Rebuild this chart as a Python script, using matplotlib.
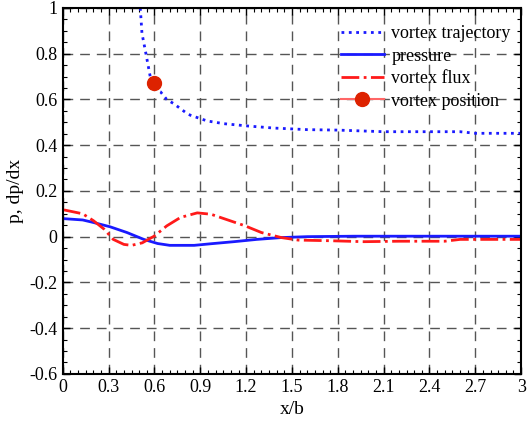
import matplotlib
matplotlib.use("Agg")
import matplotlib.pyplot as plt
from matplotlib.ticker import MultipleLocator
import numpy as np

plt.rcParams['font.family'] = ['Liberation Serif', 'DejaVu Serif']
plt.rcParams['mathtext.fontset'] = 'stix'

# vortex trajectory
traj_x = [0.507, 0.518, 0.544, 0.572, 0.616, 0.64, 0.68, 0.725, 0.81, 0.835, 0.945,
          1.055, 1.21, 1.38, 1.60, 1.80, 2.1, 2.6, 2.7, 3.0]
traj_y = [1.0, 0.889, 0.80, 0.70, 0.64, 0.633, 0.60, 0.582, 0.54, 0.531, 0.506,
          0.494, 0.484, 0.475, 0.468, 0.466, 0.459, 0.459, 0.452, 0.452]

# pressure
pres_x = [0.0, 0.13, 0.2, 0.31, 0.42, 0.53, 0.62, 0.70, 0.86, 0.97, 1.12, 1.27,
          1.43, 1.6, 1.91, 2.4, 3.0]
pres_y = [0.079, 0.073, 0.062, 0.043, 0.018, -0.012, -0.03, -0.038, -0.038, -0.031,
          -0.022, -0.012, -0.004, 0.0, 0.002, 0.002, 0.002]

# vortex flux
flux_x = [0.0, 0.13, 0.2, 0.27, 0.33, 0.4, 0.45, 0.52, 0.6, 0.68, 0.77, 0.88, 0.97,
          1.08, 1.19, 1.30, 1.43, 1.54, 1.76, 1.97, 2.2, 2.5, 2.6, 3.0]
flux_y = [0.118, 0.10, 0.07, 0.033, -0.012, -0.034, -0.038, -0.027, 0.003, 0.047,
          0.084, 0.104, 0.098, 0.073, 0.048, 0.018, -0.004, -0.015, -0.018, -0.022,
          -0.02, -0.02, -0.012, -0.012]

# vortex position
pos_x = [0.6]
pos_y = [0.672]

xticks = ['0', '0.3', '0.6', '0.9', '1.2', '1.5', '1.8', '2.1', '2.4', '2.7', '3']
yticks = ['-0.6', '-0.4', '-0.2', '0', '0.2', '0.4', '0.6', '0.8', '1']

fig = plt.figure(figsize=(5.28, 4.21), dpi=100)
ax = fig.add_axes([0.119, 0.112, 0.868, 0.869])

ax.plot(traj_x, traj_y, ':', color='#1a1aff', lw=2, label='vortex trajectory')
ax.plot(pres_x, pres_y, '-', color='#1a1aff', lw=2, label='pressure')
ax.plot(flux_x, flux_y, '-.', color='#ff1a1a', lw=2, label='vortex flux')
ax.plot(pos_x, pos_y, '-o', color='#ff6666', mfc='#dd2200', mec='#dd2200', ms=10,
        lw=1.5, label='vortex position')

ax.set_xlim(0, 3)
ax.set_ylim(-0.6, 1)
ax.xaxis.set_minor_locator(MultipleLocator(0.05))
ax.yaxis.set_minor_locator(MultipleLocator(0.05))
ax.set_xticks(np.arange(0, 3.01, 0.3))
ax.set_xticklabels(xticks)
ax.set_yticks(np.arange(-0.6, 1.01, 0.2))
ax.set_yticklabels(yticks)

ax.tick_params(which='both', direction='in', top=True, right=True, labelsize=13)
ax.tick_params(which='major', length=5, width=1, pad=4)
ax.tick_params(which='minor', length=3, width=0.8)
ax.grid(True, which='major', ls=(0, (7, 5)), color='#555555', lw=1)

for s in ax.spines.values():
    s.set_linewidth(1.5)

ax.set_xlabel('x/b', fontsize=14, labelpad=3)
ax.set_ylabel('p, dp/dx', fontsize=14, labelpad=4)

ax.legend(loc='upper right', bbox_to_anchor=(1.0087, 0.992), frameon=False,
          fontsize=13, handlelength=2.4, labelspacing=0.3, handletextpad=0.4,
          borderaxespad=0.4)

fig.savefig('out.png', dpi=100)
